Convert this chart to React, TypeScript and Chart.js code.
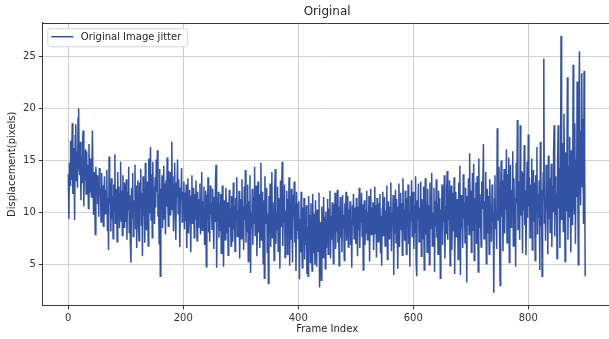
import { useEffect, useRef } from "react";
import { Chart, registerables } from "chart.js";

Chart.register(...registerables);

const chartTitle = "Original";
const seriesLabel = "Original Image jitter";
const xTitle = "Frame Index";
const yTitle = "Displacement(pixels)";
const xTicks = [0, 200, 400, 600, 800];
const yTicks = [5, 10, 15, 20, 25];

// displacement per frame (frame index = position in the list)
const displacement: number[] = [
  13.7, 9.4, 14.8, 12.6, 16.9, 13.2, 15.5, 18.6, 11.8, 14.9,
  16.2, 9.3, 17.4, 18.5, 13.1, 15.8, 12.4, 19.1, 20.0, 14.3,
  13.6, 16.8, 11.2, 15.4, 12.9, 17.2, 17.9, 10.6, 14.7, 13.1,
  16.1, 11.8, 15.9, 12.3, 14.6, 10.4, 16.6, 13.3, 12.0, 15.2,
  11.5, 14.1, 17.9, 12.7, 9.8, 13.9, 11.3, 7.9, 14.4, 12.2,
  13.6, 10.8, 12.9, 9.6, 14.3, 11.7, 12.4, 9.1, 13.8, 10.5,
  12.6, 8.7, 11.9, 13.5, 9.9, 12.2, 10.7, 14.1, 8.3, 11.4,
  6.4, 15.4, 10.9, 12.8, 8.2, 13.3, 9.4, 11.6, 7.5, 12.7,
  10.2, 15.6, 8.9, 12.3, 11.1, 7.2, 13.9, 9.7, 12.5, 8.5,
  11.8, 14.9, 9.2, 12.1, 7.8, 13.6, 10.4, 8.6, 12.9, 11.3,
  9.1, 13.2, 7.4, 12.0, 10.3, 14.4, 8.1, 11.7, 6.9, 5.2,
  12.4, 9.5, 13.8, 7.7, 11.2, 10.1, 14.6, 8.4, 12.6, 6.6,
  11.5, 13.1, 9.0, 7.3, 12.9, 10.6, 14.2, 8.8, 11.9, 5.8,
  13.5, 9.7, 12.2, 7.1, 14.8, 10.9, 8.3, 13.0, 11.4, 6.8,
  15.2, 10.0, 12.7, 16.3, 9.3, 13.7, 7.6, 14.9, 11.1, 12.5,
  8.9, 13.4, 10.5, 15.1, 12.0, 16.0, 9.6, 11.8, 7.0, 14.2,
  3.9, 12.3, 10.2, 13.6, 8.5, 11.3, 14.5, 9.4, 12.8, 7.9,
  13.1, 10.6, 15.3, 11.7, 8.7, 14.0, 12.1, 9.8, 13.9, 10.3,
  16.8, 11.0, 13.5, 8.2, 12.6, 14.8, 10.1, 7.4, 12.9, 11.5,
  15.1, 9.9, 13.2, 10.8, 6.7, 12.4, 11.2, 14.3, 9.1, 12.0,
  10.7, 13.0, 8.4, 11.9, 9.2, 12.7, 6.6, 11.4, 13.3, 8.0,
  10.5, 12.2, 9.7, 6.2, 11.6, 13.6, 8.9, 10.9, 12.4, 7.6,
  11.8, 9.4, 13.1, 10.2, 7.3, 12.0, 8.6, 11.3, 9.9, 12.8,
  7.9, 10.6, 13.9, 8.3, 11.1, 9.0, 12.5, 6.9, 10.4, 12.1,
  4.8, 11.7, 9.5, 13.4, 8.1, 10.8, 7.2, 12.6, 9.8, 11.0,
  8.4, 12.3, 10.0, 6.5, 11.5, 9.1, 13.0, 14.6, 4.7, 10.3,
  9.2, 12.0, 7.6, 10.9, 8.3, 11.8, 6.1, 9.7, 12.6, 8.8,
  4.8, 11.2, 9.5, 7.4, 12.4, 10.1, 8.0, 11.0, 5.9, 9.3,
  12.2, 8.6, 10.4, 6.8, 11.6, 9.0, 7.2, 12.9, 8.4, 10.7,
  6.3, 11.4, 9.6, 13.4, 7.7, 10.2, 8.9, 12.1, 5.6, 9.8,
  11.3, 7.5, 13.2, 8.8, 10.6, 6.4, 12.5, 9.3, 14.1, 7.1,
  10.8, 8.2, 12.7, 5.3, 11.1, 9.6, 13.6, 4.2, 10.0, 8.5,
  12.3, 6.9, 11.5, 9.0, 14.4, 7.8, 10.9, 12.6, 5.8, 9.4,
  13.0, 8.1, 11.8, 6.6, 10.3, 14.8, 7.3, 12.0, 9.7, 5.1,
  11.2, 3.7, 13.5, 8.9, 10.5, 12.4, 6.2, 9.9, 3.2, 11.6,
  8.0, 12.8, 6.7, 10.7, 13.9, 7.6, 11.0, 9.2, 5.4, 12.2,
  14.2, 7.0, 10.1, 8.4, 12.5, 6.3, 11.4, 9.5, 4.6, 13.1,
  8.7, 11.9, 14.9, 6.8, 10.6, 9.0, 12.7, 5.7, 10.2, 8.1,
  12.1, 6.0, 11.3, 9.3, 13.4, 4.9, 10.4, 7.4, 12.3, 8.6,
  5.2, 11.7, 9.6, 13.0, 7.1, 10.8, 4.4, 12.0, 8.3, 10.9,
  7.5, 11.1, 3.6, 9.4, 6.2, 12.0, 8.0, 4.7, 10.5, 7.2,
  11.4, 5.5, 9.0, 6.9, 10.7, 4.1, 8.6, 3.9, 11.6, 7.8,
  9.8, 5.2, 10.9, 7.0, 4.4, 11.8, 8.4, 6.1, 9.9, 5.0,
  11.2, 7.6, 4.8, 10.3, 8.8, 6.3, 11.9, 2.8, 9.1, 7.3,
  3.5, 10.6, 8.2, 5.7, 11.5, 7.9, 9.6, 4.6, 10.1, 6.6,
  9.3, 11.3, 6.0, 10.4, 8.5, 12.1, 5.6, 9.7, 7.4, 11.0,
  8.9, 5.1, 10.8, 7.8, 11.9, 6.5, 9.5, 8.2, 12.2, 7.1,
  10.6, 4.9, 9.1, 11.5, 7.6, 10.0, 6.2, 11.7, 8.6, 9.8,
  5.4, 10.9, 8.0, 12.0, 7.3, 9.9, 11.6, 6.7, 10.3, 8.4,
  11.1, 6.9, 9.4, 4.7, 10.7, 8.8, 11.8, 7.5, 9.2, 10.5,
  7.0, 11.4, 9.5, 5.8, 10.6, 8.3, 12.4, 6.6, 10.1, 9.0,
  11.9, 7.7, 10.8, 4.5, 9.6, 11.2, 6.9, 10.3, 8.1, 12.1,
  7.4, 10.0, 8.9, 11.6, 5.3, 9.8, 12.3, 7.9, 10.5, 8.6,
  11.0, 6.4, 9.3, 12.5, 8.0, 10.7, 5.7, 11.4, 9.1, 7.2,
  10.9, 8.5, 11.8, 6.1, 9.7, 4.9, 10.4, 12.0, 7.8, 9.4,
  11.5, 6.8, 10.2, 8.7, 12.6, 5.5, 9.9, 11.1, 7.5, 10.6,
  8.2, 12.9, 6.3, 10.0, 9.3, 11.7, 4.0, 10.8, 8.0, 12.2,
  7.1, 11.3, 9.0, 4.6, 10.5, 12.8, 6.7, 9.6, 11.9, 8.4,
  10.9, 5.9, 13.3, 8.8, 10.3, 7.3, 12.1, 9.5, 6.0, 11.4,
  8.6, 12.7, 7.0, 10.1, 4.8, 11.6, 9.2, 13.1, 7.7, 10.4,
  12.0, 6.5, 10.7, 8.1, 13.5, 5.2, 3.9, 11.2, 9.4, 12.8,
  7.2, 10.5, 8.9, 13.0, 5.8, 11.3, 9.8, 7.5, 12.5, 4.5,
  10.2, 13.3, 7.9, 11.0, 6.2, 12.3, 9.0, 10.7, 5.0, 12.9,
  8.4, 11.6, 13.8, 6.8, 10.0, 9.2, 12.4, 4.3, 11.1, 8.7,
  13.2, 7.6, 10.9, 6.0, 12.1, 9.5, 11.4, 3.7, 10.3, 8.3,
  12.7, 6.9, 11.2, 9.1, 13.6, 5.6, 10.6, 8.0, 12.2, 14.0,
  7.4, 11.5, 9.3, 13.1, 4.9, 10.8, 12.6, 6.4, 9.7, 11.9,
  8.2, 13.4, 4.1, 10.4, 12.0, 7.7, 9.9, 11.3, 5.5, 12.9,
  9.0, 14.5, 4.0, 11.7, 8.5, 10.9, 6.6, 13.7, 9.4, 11.0,
  7.1, 12.4, 10.2, 3.3, 11.6, 8.8, 13.3, 7.9, 15.7, 9.6,
  12.1, 6.2, 10.7, 13.8, 8.3, 14.7, 5.4, 11.4, 9.2, 12.9,
  7.0, 13.5, 10.1, 4.3, 15.2, 8.6, 11.8, 9.5, 6.7, 13.0,
  10.4, 12.6, 16.6, 7.5, 11.1, 9.0, 13.9, 5.1, 10.8, 12.3,
  8.1, 11.6, 6.0, 13.2, 9.7, 10.5, 7.2, 12.7, 9.1, 10.0,
  2.3, 11.3, 13.6, 8.4, 10.2, 6.5, 18.1, 12.0, 9.3, 14.4,
  7.8, 3.0, 12.5, 15.0, 9.6, 13.1, 6.3, 11.7, 14.2, 8.0,
  12.8, 10.3, 16.1, 7.1, 13.7, 9.4, 15.3, 5.2, 11.9, 14.6,
  8.6, 12.2, 10.6, 15.9, 6.8, 13.3, 9.9, 11.4, 4.8, 14.8,
  10.9, 18.9, 8.3, 13.0, 11.6, 7.4, 18.4, 9.7, 14.0, 12.4,
  6.1, 13.8, 10.2, 16.5, 8.8, 12.1, 5.9, 11.0, 14.9, 9.5,
  17.5, 10.6, 13.4, 7.6, 12.7, 8.9, 15.2, 6.4, 11.3, 14.1,
  9.2, 12.9, 5.4, 13.6, 10.0, 16.3, 7.9, 11.8, 9.5, 13.1,
  4.5, 16.8, 8.7, 12.2, 3.9, 10.9, 13.8, 24.8, 9.0, 11.5,
  7.3, 14.6, 10.3, 12.0, 6.0, 15.5, 9.4, 13.3, 8.1, 11.2,
  14.7, 6.7, 12.6, 10.1, 15.9, 18.4, 7.7, 13.5, 9.8, 11.9,
  5.6, 15.0, 18.4, 10.4, 14.3, 6.6, 12.8, 27.0, 9.3, 16.7,
  11.1, 8.2, 19.5, 13.6, 5.3, 15.8, 10.2, 12.0, 23.0, 7.4,
  14.5, 9.6, 17.3, 11.8, 6.2, 16.0, 13.0, 8.8, 24.2, 12.3,
  9.9, 18.6, 7.0, 15.1, 11.5, 22.6, 13.9, 5.0, 20.1, 25.5,
  14.8, 10.7, 17.8, 23.4, 12.5, 19.0, 8.9, 23.6, 15.3, 3.9,
];

const FONT = "'DejaVu Sans', 'Liberation Sans', sans-serif";
const CANVAS_W = 612;
const CANVAS_H = 339;

export default function App() {
  const canvasRef = useRef<HTMLCanvasElement | null>(null);

  useEffect(() => {
    document.body.style.margin = "0";
    document.body.style.overflow = "hidden";
    const canvas = canvasRef.current;
    if (!canvas) return;

    const points = displacement.map((v, i) => ({ x: i, y: v }));

    const topSpine = {
      id: "topSpine",
      afterDatasetsDraw(chart: any) {
        const { ctx, chartArea } = chart;
        ctx.save();
        ctx.strokeStyle = "#3a3a3a";
        ctx.lineWidth = 1;
        ctx.beginPath();
        ctx.moveTo(chartArea.left, Math.round(chartArea.top) + 0.5);
        ctx.lineTo(chartArea.right + 2, Math.round(chartArea.top) + 0.5);
        ctx.stroke();
        ctx.restore();
      },
    };

    const mplLegend = {
      id: "mplLegend",
      afterDraw(chart: any) {
        const { ctx, chartArea } = chart;
        const x = chartArea.left + 5;
        const y = chartArea.top + 5.5;
        const w = 139.5;
        const h = 18;
        ctx.save();
        ctx.beginPath();
        ctx.roundRect(x + 0.5, y + 0.5, w, h, 2);
        ctx.fillStyle = "rgba(255,255,255,0.85)";
        ctx.fill();
        ctx.strokeStyle = "#d6d6d6";
        ctx.lineWidth = 1;
        ctx.stroke();
        const cy = y + h / 2 - 0.5;
        ctx.strokeStyle = "#3352a3";
        ctx.lineWidth = 1.5;
        ctx.beginPath();
        ctx.moveTo(x + 4, cy);
        ctx.lineTo(x + 26, cy);
        ctx.stroke();
        ctx.fillStyle = "#262626";
        ctx.font = `10px ${FONT}`;
        ctx.textBaseline = "middle";
        ctx.textAlign = "left";
        ctx.fillText(seriesLabel, x + 33.5, cy + 0.5);
        ctx.restore();
      },
    };

    const chart = new Chart(canvas, {
      type: "line",
      data: {
        datasets: [
          {
            label: seriesLabel,
            data: points,
            borderColor: "#3352a3",
            backgroundColor: "#3352a3",
            borderWidth: 1.5,
            pointRadius: 0,
            tension: 0,
            fill: false,
          },
        ],
      },
      options: {
        responsive: false,
        animation: false,
        devicePixelRatio: 1,
        layout: { padding: { left: 0, right: 0, top: 0, bottom: 0 } },
        plugins: {
          legend: { display: false },
          tooltip: { enabled: false },
          title: {
            display: true,
            fullSize: false,
            text: chartTitle,
            color: "#262626",
            font: { family: FONT, size: 12, weight: "normal", lineHeight: 1.2 },
            padding: { top: 5, bottom: 3.3 },
          },
        },
        scales: {
          x: {
            type: "linear",
            min: -45.2,
            max: 945.6,
            afterBuildTicks(scale: any) {
              scale.ticks = xTicks.map((v) => ({ value: v }));
            },
            afterFit(scale: any) {
              scale.height = 33.2;
            },
            ticks: {
              color: "#333333",
              font: { family: FONT, size: 10 },
              padding: 3,
              maxRotation: 0,
              autoSkip: false,
            },
            grid: {
              color: "#cdcdcd",
              lineWidth: 1,
              drawTicks: true,
              tickLength: 3.5,
              tickColor: "#333333",
              tickWidth: 1,
            },
            border: { display: true, color: "#3a3a3a", width: 1 },
            title: {
              display: true,
              text: xTitle,
              color: "#262626",
              font: { family: FONT, size: 10 },
              padding: { top: 0, bottom: 4 },
            },
          },
          y: {
            type: "linear",
            min: 1.05,
            max: 28.25,
            afterBuildTicks(scale: any) {
              scale.ticks = yTicks.map((v) => ({ value: v }));
            },
            afterFit(scale: any) {
              scale.width = 42.3;
            },
            ticks: {
              color: "#333333",
              font: { family: FONT, size: 10 },
              padding: 3,
              autoSkip: false,
            },
            grid: {
              color: "#d4d4d4",
              lineWidth: 1,
              drawTicks: true,
              tickLength: 3.5,
              tickColor: "#333333",
              tickWidth: 1,
            },
            border: { display: true, color: "#3a3a3a", width: 1 },
            title: {
              display: true,
              text: yTitle,
              color: "#262626",
              font: { family: FONT, size: 10 },
              padding: { top: 6, bottom: 0 },
            },
          },
        },
      },
      plugins: [topSpine, mplLegend],
    } as any);

    return () => {
      chart.destroy();
    };
  }, []);

  return (
    <div style={{ width: 609, height: 339, overflow: "hidden" }}>
      <canvas
        ref={canvasRef}
        width={CANVAS_W}
        height={CANVAS_H}
        style={{ display: "block", width: CANVAS_W, height: CANVAS_H }}
      />
    </div>
  );
}
